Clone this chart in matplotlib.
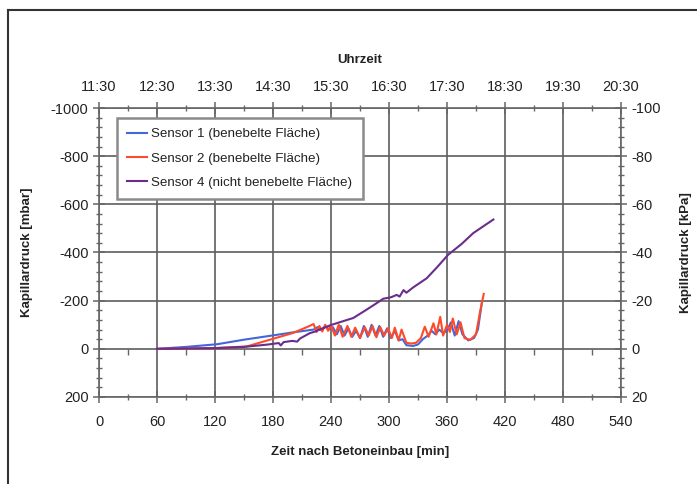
import matplotlib.pyplot as plt
from matplotlib.ticker import MultipleLocator
from matplotlib.lines import Line2D

plt.rcParams["font.family"] = ["Liberation Sans", "DejaVu Sans"]
plt.rcParams["axes.unicode_minus"] = False

# time after concreting [min] and capillary pressure [mbar]
t_s1 = [60, 90, 122, 150, 182, 200, 222, 226, 230, 234, 238, 242, 246, 250, 254,
        258, 262, 266, 270, 274, 278, 282, 286, 290, 294, 298, 302, 306, 310, 314,
        318, 325, 330, 335, 340, 344, 348, 352, 356, 360, 364, 368, 372, 376, 382,
        388, 392, 396]
p_s1 = [0, -8, -19, -38, -57, -68, -80, -90, -78, -95, -80, -90, -60, -95, -55,
        -85, -50, -75, -45, -95, -50, -100, -55, -95, -50, -85, -45, -75, -35, -40,
        -15, -12, -18, -40, -55, -75, -60, -80, -65, -75, -110, -55, -115, -60, -35,
        -45, -80, -190]

t_s2 = [60, 90, 120, 153, 182, 200, 215, 222, 225, 228, 231, 234, 237, 240, 244,
        248, 252, 257, 261, 265, 270, 275, 279, 283, 287, 291, 295, 299, 303, 306,
        310, 313, 318, 323, 328, 333, 337, 341, 346, 349, 353, 356, 360, 363, 366,
        370, 374, 378, 384, 390, 394, 398]
p_s2 = [0, -1, -3, -10, -44, -65, -90, -103, -70, -95, -72, -100, -75, -98, -55,
        -100, -50, -95, -50, -88, -45, -90, -55, -95, -48, -90, -55, -85, -45, -88,
        -35, -80, -25, -22, -25, -45, -92, -50, -106, -60, -133, -55, -100, -70, -126,
        -60, -110, -45, -37, -60, -150, -228]

t_s4 = [60, 120, 150, 175, 186, 188, 191, 200, 205, 208, 218, 223, 240, 263, 275,
        287, 294, 302, 308, 311, 315, 318, 325, 339, 350, 361, 375, 387, 398, 408]
p_s4 = [0, -3, -8, -18, -24, -14, -28, -33, -30, -43, -65, -71, -99, -128, -158,
        -189, -208, -214, -224, -217, -244, -233, -255, -293, -340, -390, -435, -480, -510, -537]

x_ticks = list(range(0, 541, 60))
clock_labels = ["11:30", "12:30", "13:30", "14:30", "15:30", "16:30",
                "17:30", "18:30", "19:30", "20:30"]

txt = "#222222"
grid_c = "#5e5e5e"
fig = plt.figure(figsize=(6.97, 4.84), dpi=100)
ax = fig.add_axes([99 / 697, 1 - 397 / 484, 522 / 697, 289 / 484])

ax.plot(t_s1, p_s1, color="#4466d8", lw=1.5, label="Sensor 1 (benebelte Fläche)")
ax.plot(t_s2, p_s2, color="#ff4a2a", lw=1.5, label="Sensor 2 (benebelte Fläche)")
ax.plot(t_s4, p_s4, color="#6a2d8c", lw=1.5, label="Sensor 4 (nicht benebelte Fläche)")

ax.set_xlim(0, 540)
ax.set_ylim(200, -1000)
ax.set_xticks(x_ticks)
ax.xaxis.set_minor_locator(MultipleLocator(30))
ax.yaxis.set_major_locator(MultipleLocator(200))
ax.yaxis.set_minor_locator(MultipleLocator(40))
ax.grid(which="major", color=grid_c, lw=1.2)
ax.set_axisbelow(True)
for s in ax.spines.values():
    s.set_color("#666666")
    s.set_linewidth(1.2)
ax.tick_params(which="major", direction="inout", length=8, width=1.1, color="#666666",
               labelsize=10.5, labelcolor=txt)
ax.tick_params(which="minor", direction="inout", length=4, width=1.0, color="#666666")
ax.tick_params(axis="x", pad=9)
ax.set_xlabel("Zeit nach Betoneinbau [min]", fontsize=9.5, fontweight="bold", color=txt, labelpad=12)
ax.set_ylabel("Kapillardruck [mbar]", fontsize=9.5, fontweight="bold", color=txt, labelpad=13)

# small ticks along the zero line
zero_ax = ax.secondary_xaxis(200 / 1200)
zero_ax.set_xticks(list(range(30, 540, 60)), labels=[])
zero_ax.spines["bottom"].set_visible(False)
zero_ax.tick_params(direction="out", length=4, width=1.0, color="#666666")

# right axis in kPa
axr = ax.twinx()
axr.set_ylim(20, -100)
axr.yaxis.set_major_locator(MultipleLocator(20))
axr.yaxis.set_minor_locator(MultipleLocator(4))
axr.tick_params(which="major", direction="inout", length=8, width=1.1, color="#666666",
                labelsize=10.5, labelcolor=txt)
axr.tick_params(which="minor", direction="inout", length=4, width=1.0, color="#666666")
axr.set_ylabel("Kapillardruck [kPa]", fontsize=9.5, fontweight="bold", color=txt, labelpad=14)
for s in axr.spines.values():
    s.set_visible(False)

# top axis with clock time
axt = ax.twiny()
axt.set_xlim(0, 540)
axt.set_xticks(x_ticks, labels=clock_labels)
axt.xaxis.set_minor_locator(MultipleLocator(30))
axt.tick_params(which="major", direction="inout", length=8, width=1.1, color="#666666",
                labelsize=10.5, labelcolor=txt, pad=6)
axt.tick_params(which="minor", direction="inout", length=4, width=1.0, color="#666666")
axt.set_xlabel("Uhrzeit", fontsize=9.5, fontweight="bold", color=txt, labelpad=12)
for s in axt.spines.values():
    s.set_visible(False)

leg = ax.legend(loc="upper left", bbox_to_anchor=(0.034, 0.965), fontsize=9.6,
                handlelength=1.5, handletextpad=0.35, labelspacing=0.9,
                borderpad=0.75, borderaxespad=0, fancybox=False, framealpha=1,
                edgecolor="#8a8a8a")
leg.get_frame().set_linewidth(1.8)
for t in leg.get_texts():
    t.set_color(txt)
leg.set_zorder(5)

# frame of the original figure (cropped at right and bottom)
fig.add_artist(Line2D([8 / 697, 8 / 697], [0, 1 - 10 / 484], color="#333333", lw=1.5))
fig.add_artist(Line2D([8 / 697, 1], [1 - 10 / 484, 1 - 10 / 484], color="#333333", lw=1.5))

fig.savefig("out.png", dpi=100)
